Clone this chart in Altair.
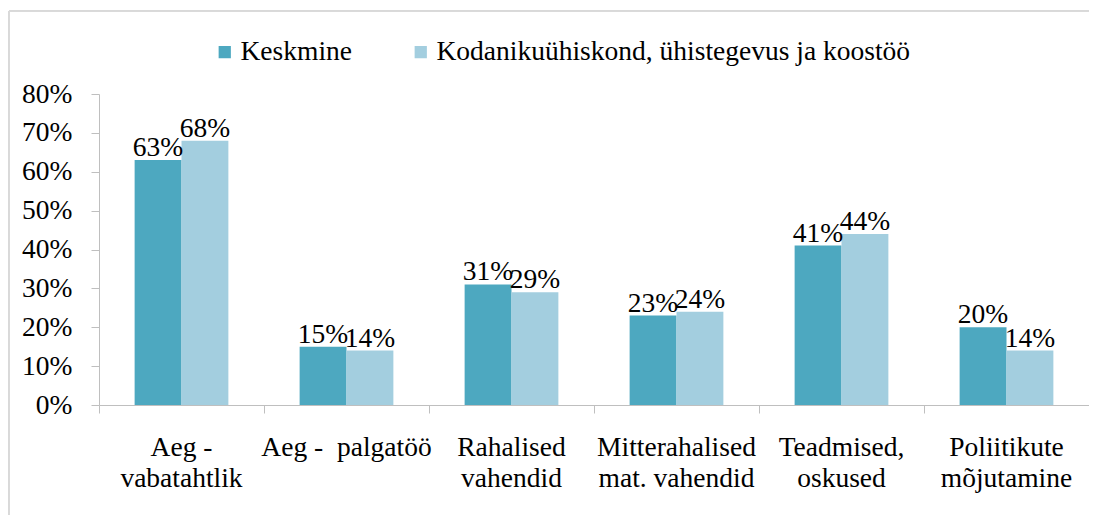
import altair as alt
import pandas as pd

categories = [
    "Aeg -\nvabatahtlik",
    "Aeg -\u00a0 palgatöö",
    "Rahalised\nvahendid",
    "Mitterahalised\nmat. vahendid",
    "Teadmised,\noskused",
    "Poliitikute\nmõjutamine",
]
series = ["Keskmine", "Kodanikuühiskond, ühistegevus ja koostöö"]
keskmine = [0.63, 0.15, 0.31, 0.23, 0.41, 0.20]
kodanik = [0.68, 0.14, 0.29, 0.24, 0.44, 0.14]
colors = ["#4DA8C0", "#A3CEDF"]
y_ticks = [0, 0.1, 0.2, 0.3, 0.4, 0.5, 0.6, 0.7, 0.8]

rows = []
for i, c in enumerate(categories):
    rows.append({"cat": c, "series": series[0], "value": keskmine[i]})
    rows.append({"cat": c, "series": series[1], "value": kodanik[i]})
df = pd.DataFrame(rows)

FONT = "'Liberation Serif', 'Times New Roman', Times, serif"
FS = 27.5

x_axis = alt.Axis(
    title=None,
    labelAngle=0,
    labelExpr="split(datum.label, '\\n')",
    labelFontSize=FS,
    labelFont=FONT,
    labelColor="#000000",
    labelBaseline="top",
    labelLineHeight=31,
    labelPadding=20,
    tickSize=8,
    tickColor="#bfbfbf",
    domainColor="#bfbfbf",
    bandPosition=0,
    labelLimit=400,
    labelOverlap=False,
)
y_axis = alt.Axis(
    title=None,
    values=y_ticks,
    format=".0%",
    labelFontSize=FS,
    labelFont=FONT,
    labelColor="#000000",
    labelPadding=19,
    tickSize=8,
    tickColor="#bfbfbf",
    domainColor="#bfbfbf",
    grid=False,
    labelOverlap=False,
)
x_scale = alt.Scale(domain=categories, paddingInner=0, paddingOuter=0)
y_scale = alt.Scale(domain=[0, 0.8], nice=False)
off_scale = alt.Scale(domain=series, paddingInner=0, paddingOuter=0.76)

bars = alt.Chart(df).mark_bar().encode(
    x=alt.X("cat:N", sort=categories, scale=x_scale, axis=x_axis),
    xOffset=alt.XOffset("series:N", sort=series, scale=off_scale),
    y=alt.Y("value:Q", scale=y_scale, axis=y_axis),
    color=alt.Color(
        "series:N",
        sort=series,
        scale=alt.Scale(domain=series, range=colors),
        legend=alt.Legend(
            title=None,
            orient="none",
            direction="horizontal",
            legendX=112,
            legendY=-56,
            symbolType="square",
            symbolSize=150,
            symbolStrokeWidth=0,
            labelFontSize=FS,
            labelFont=FONT,
            labelColor="#000000",
            labelOffset=2,
            columnPadding=54,
            labelLimit=700,
        ),
    ),
)

labels = alt.Chart(df).mark_text(
    baseline="alphabetic", dy=-4, fontSize=FS, font=FONT, color="#000000"
).encode(
    x=alt.X("cat:N", sort=categories, scale=x_scale, axis=x_axis),
    xOffset=alt.XOffset("series:N", sort=series, scale=off_scale),
    y=alt.Y("value:Q", scale=y_scale, axis=y_axis),
    text=alt.Text("value:Q", format=".0%"),
)

frame_left = alt.Chart(df).mark_rule(color="#d9d9d9").encode(
    x=alt.value(-90), y=alt.value(-83), y2=alt.value(500)
)
frame_top = alt.Chart(df).mark_rule(color="#d9d9d9").encode(
    y=alt.value(-83), x=alt.value(-90), x2=alt.value(1000)
)

chart = (
    alt.layer(frame_left, frame_top, bars, labels)
    .properties(
        width=990,
        height=311,
        autosize=alt.AutoSizeParams(type="none"),
        padding={"left": 91, "top": 86, "right": 0, "bottom": 110},
    )
    .configure_view(stroke=None)
)

chart.save("out.html", embed_options={"renderer": "svg", "actions": False})
